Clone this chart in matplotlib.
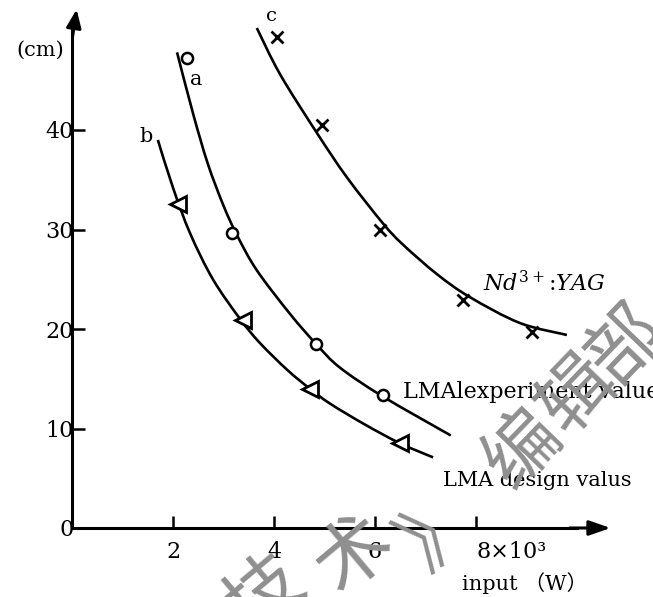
import matplotlib
matplotlib.use("Agg")
import matplotlib.pyplot as plt
from matplotlib.path import Path
from matplotlib.patches import PathPatch

# curve a : LMA experiment value (circles)
a_pts_x = [2.28, 3.17, 4.83, 6.16]
a_pts_y = [47.2, 29.6, 18.5, 13.4]
a_line_x = [2.08, 2.40, 2.69, 3.0, 3.27, 3.66, 4.32, 4.85, 5.31, 6.16, 7.5]
a_line_y = [47.8, 41.6, 36.6, 32.4, 29.4, 25.9, 21.5, 18.4, 16.1, 13.2, 9.3]

# curve b : LMA design value (triangles)
b_pts_x = [2.10, 3.39, 4.71, 6.50]
b_pts_y = [32.6, 20.9, 14.0, 8.5]
b_line_x = [1.70, 2.00, 2.34, 2.79, 3.33, 3.72, 4.26, 4.71, 5.11, 5.8, 6.50, 7.15]
b_line_y = [39.0, 34.2, 29.6, 25.0, 21.0, 18.6, 15.9, 14.0, 12.5, 10.4, 8.5, 7.1]

# curve c : Nd3+:YAG (crosses)
c_pts_x = [4.06, 4.95, 6.10, 7.74, 9.11]
c_pts_y = [49.3, 40.5, 30.0, 22.9, 19.7]
c_line_x = [3.66, 4.12, 4.85, 5.45, 6.16, 6.55, 7.23, 7.88, 8.87, 9.80]
c_line_y = [50.25, 45.6, 39.7, 35.2, 30.6, 28.5, 25.5, 23.2, 20.6, 19.4]

x_ticks = [2, 4, 6, 8]
x_tick_labels = ["2", "4", "6", "8×10³"]
y_ticks = [0, 10, 20, 30, 40]
y_tick_labels = ["0", "10", "20", "30", "40"]

# watermark characters and their centres
wm_chars = ["编", "辑", "部", "技", "术", "》"]
wm_x = [8.93, 10.0, 10.95, 3.82, 5.60, 7.29]
wm_y = [7.84, 13.37, 18.39, -6.73, -2.71, -0.2]
wm_rot = [46, 46, 46, 40, 40, 40]

plt.rcParams["font.family"] = ["DejaVu Serif", "Noto Sans CJK SC"]
plt.rcParams["mathtext.fontset"] = "dejavuserif"


def smooth_curve(ax, xs, ys):
    # catmull-rom through the read points, drawn as cubic bezier
    pts = list(zip(xs, ys))
    verts = [pts[0]]
    codes = [Path.MOVETO]
    n = len(pts)
    for i in range(n - 1):
        p0 = pts[i - 1] if i > 0 else pts[i]
        p1 = pts[i]
        p2 = pts[i + 1]
        p3 = pts[i + 2] if i + 2 < n else pts[i + 1]
        c1 = (p1[0] + (p2[0] - p0[0]) / 6, p1[1] + (p2[1] - p0[1]) / 6)
        c2 = (p2[0] - (p3[0] - p1[0]) / 6, p2[1] - (p3[1] - p1[1]) / 6)
        verts += [c1, c2, p2]
        codes += [Path.CURVE4] * 3
    ax.add_patch(PathPatch(Path(verts, codes), fill=False, color="black", lw=1.9))


fig = plt.figure(figsize=(6.53, 5.97), dpi=100)
ax = fig.add_axes([0, 0, 1, 1])
ax.set_xlim(-72 / 50.5, (653 - 72) / 50.5)
ax.set_ylim(-(597 - 528) / 9.95, 528 / 9.95)

smooth_curve(ax, a_line_x, a_line_y)
smooth_curve(ax, b_line_x, b_line_y)
smooth_curve(ax, c_line_x, c_line_y)
ax.plot(a_pts_x, a_pts_y, "o", ms=8, mfc="white", mec="black", mew=1.8)
ax.plot(b_pts_x, b_pts_y, "<", ms=11, mfc="white", mec="black", mew=2)
ax.plot(c_pts_x, c_pts_y, "x", ms=9, color="black", mew=2)

# axes with arrow heads
for s in ["top", "right"]:
    ax.spines[s].set_visible(False)
ax.spines["left"].set_position(("data", 0))
ax.spines["bottom"].set_position(("data", 0))
ax.spines["left"].set_bounds(0, 50.5)
ax.spines["bottom"].set_bounds(0, 10.0)
ax.spines["left"].set_linewidth(2.2)
ax.spines["bottom"].set_linewidth(2.2)
ax.annotate("", xy=(0.1, 52.4), xytext=(0.0, 49.0),
            arrowprops=dict(arrowstyle="-|>,head_length=1.1,head_width=0.45", color="black", lw=2.2))
ax.annotate("", xy=(10.72, 0.0), xytext=(9.8, 0.0),
            arrowprops=dict(arrowstyle="-|>,head_length=1.3,head_width=0.45", color="black", lw=2.2))

ax.set_xticks(x_ticks)
ax.set_xticklabels(x_tick_labels)
ax.set_yticks(y_ticks)
ax.set_yticklabels(y_tick_labels)
ax.tick_params(axis="both", direction="in", length=9, width=1.8, labelsize=16)
ax.tick_params(axis="x", pad=9)
ax.tick_params(axis="y", pad=-1.5)
xl = ax.get_xticklabels()
xl[-1].set_ha("left")
ax.get_yticklines()[0].set_visible(False)

ax.text(-0.62, 48.0, "(cm)", fontsize=15, ha="center", va="center")
ax.text(2.46, 45.1, "a", fontsize=15, ha="center", va="center")
ax.text(1.47, 39.3, "b", fontsize=15, ha="center", va="center")
ax.text(3.96, 51.5, "c", fontsize=14, ha="center", va="center")
ax.text(8.14, 24.6, r"$Nd^{3+}$:$\mathit{YAG}$", fontsize=16, ha="left", va="center")
ax.text(6.55, 13.7, "LMAlexperiment value", fontsize=16, ha="left", va="center")
ax.text(7.35, 4.8, "LMA design valus", fontsize=15, ha="left", va="center")
ax.text(7.72, -5.5, "input （W）", fontsize=15, ha="left", va="center")

# watermark
for ch, wx, wy, wr in zip(wm_chars, wm_x, wm_y, wm_rot):
    ax.text(wx, wy, ch, fontsize=54, rotation=wr, family=["Noto Sans CJK SC"],
            fontweight="medium", color="#8f8f8f", ha="center", va="center", zorder=10)

fig.savefig("out.png", dpi=100)
